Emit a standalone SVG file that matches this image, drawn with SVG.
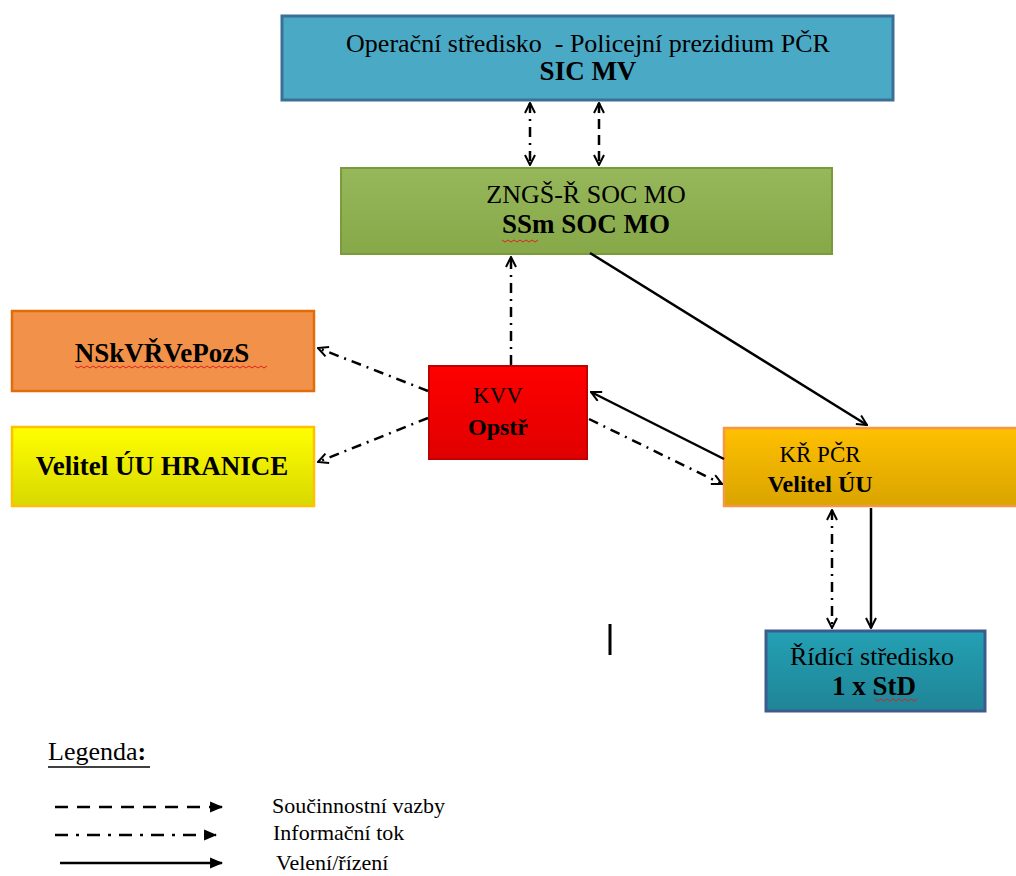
<svg xmlns="http://www.w3.org/2000/svg" width="1016" height="876" viewBox="0 0 1016 876">
<style>
.t{font-family:"Liberation Serif","Times New Roman",serif;fill:#000;text-anchor:middle}
.n{font-size:26px}
.b{font-size:27px;font-weight:bold}
.sn{font-size:23px}
.sb{font-size:24px;font-weight:bold}
.c{fill:none;stroke:#000;stroke-width:2.5}
.dash{stroke-dasharray:10 6}
.dd{stroke-dasharray:10 6 2 6}
.ldash{stroke-dasharray:13 9}
.ldd{stroke-dasharray:13 8 3 8}
.lg{font-family:"Liberation Serif","Times New Roman",serif;font-size:22px;fill:#000}
.wav{fill:none;stroke:#e02020;stroke-width:1}
</style>
<defs>
<marker id="o" viewBox="0 0 12 12" refX="11" refY="6" markerWidth="12" markerHeight="12" markerUnits="userSpaceOnUse" orient="auto-start-reverse">
<path d="M1,1 L11,6 L1,11" fill="none" stroke="#000" stroke-width="2"/>
</marker>
<marker id="f" viewBox="0 0 12 12" refX="11" refY="6" markerWidth="13" markerHeight="13" markerUnits="userSpaceOnUse" orient="auto">
<path d="M0,1 L12,6 L0,11 Z" fill="#000"/>
</marker>
<linearGradient id="gY" x1="0" y1="0" x2="0" y2="1"><stop offset="0" stop-color="#ffff00"/><stop offset="1" stop-color="#d8d800"/></linearGradient>
<linearGradient id="gK" x1="0" y1="0" x2="0" y2="1"><stop offset="0" stop-color="#ffc000"/><stop offset="1" stop-color="#d9a400"/></linearGradient>
<linearGradient id="gR" x1="0" y1="0" x2="0" y2="1"><stop offset="0" stop-color="#ff0000"/><stop offset="1" stop-color="#e00000"/></linearGradient>
<linearGradient id="gT" x1="0" y1="0" x2="0" y2="1"><stop offset="0" stop-color="#24a0b4"/><stop offset="1" stop-color="#1f8596"/></linearGradient>
<linearGradient id="gG" x1="0" y1="0" x2="0" y2="1"><stop offset="0" stop-color="#97b85a"/><stop offset="1" stop-color="#86a849"/></linearGradient>
</defs>

<g id="op-stredisko">
<rect x="282" y="16" width="611" height="84" fill="#4aaac6" stroke="#3a6f96" stroke-width="3"/>
<text class="t n" x="588" y="52">Operační středisko&#160; - Policejní prezidium PČR</text>
<text class="t b" x="588" y="80">SIC MV</text>
</g>

<g id="zngs">
<rect x="341" y="168" width="491" height="86" fill="url(#gG)" stroke="#7a9a3c" stroke-width="2"/>
<text class="t n" x="586" y="203">ZNGŠ-Ř SOC MO</text>
<text class="t b" x="586" y="233">SSm SOC MO</text>
<path class="wav" d="M502,240 l3,2 l3,-2 l3,2 l3,-2 l3,2 l3,-2 l3,2 l3,-2 l3,2 l3,-2 l3,2 l3,-2"/>
</g>

<g id="nskv">
<rect x="12" y="311" width="302" height="80" fill="#f2924a" stroke="#e36c0a" stroke-width="2.5"/>
<text class="t b" x="162" y="362">NSkVŘVePozS</text>
<path class="wav" d="M75,366 l3,2 l3,-2 l3,2 l3,-2 l3,2 l3,-2 l3,2 l3,-2 l3,2 l3,-2 l3,2 l3,-2 l3,2 l3,-2 l3,2 l3,-2 l3,2 l3,-2 l3,2 l3,-2 l3,2 l3,-2 l3,2 l3,-2 l3,2 l3,-2 l3,2 l3,-2 l3,2 l3,-2 l3,2 l3,-2 l3,2 l3,-2 l3,2 l3,-2 l3,2 l3,-2 l3,2 l3,-2 l3,2 l3,-2 l3,2 l3,-2 l3,2 l3,-2 l3,2 l3,-2 l3,2 l3,-2 l3,2 l3,-2 l3,2 l3,-2 l3,2 l3,-2 l3,2 l3,-2 l3,2 l3,-2 l3,2 l3,-2 l3,2 l3,-2"/>
</g>

<g id="velitel-hranice">
<rect x="12" y="427" width="302" height="79" fill="url(#gY)" stroke="#ffc000" stroke-width="2.5"/>
<text class="t b" x="162" y="475">Velitel ÚU HRANICE</text>
</g>

<g id="kvv">
<rect x="429" y="366" width="158" height="93" fill="url(#gR)" stroke="#c00000" stroke-width="2"/>
<text class="t sn" x="498" y="403">KVV</text>
<text class="t sb" x="498" y="435">Opstř</text>
</g>

<g id="kr-pcr">
<rect x="724" y="428" width="295" height="78" fill="url(#gK)" stroke="#f79646" stroke-width="2.5"/>
<text class="t sn" x="820" y="462">KŘ PČR</text>
<text class="t sb" x="820" y="492">Velitel ÚU</text>
</g>

<g id="ridici">
<rect x="766" y="631" width="219" height="80" fill="url(#gT)" stroke="#3b5c8c" stroke-width="3"/>
<text class="t n" x="872" y="665">Řídící středisko</text>
<text class="t b" x="874" y="695">1 x StD</text>
<path class="wav" d="M875,699 l3,2 l3,-2 l3,2 l3,-2 l3,2 l3,-2 l3,2 l3,-2 l3,2 l3,-2 l3,2 l3,-2 l3,2 l3,-2"/>
</g>

<g id="connectors">
<line class="c dd" x1="530" y1="103" x2="530" y2="165" marker-start="url(#o)" marker-end="url(#o)"/>
<line class="c dash" x1="599" y1="103" x2="599" y2="165" marker-start="url(#o)" marker-end="url(#o)"/>
<line class="c dd" x1="511" y1="365" x2="511" y2="257" marker-end="url(#o)"/>
<line class="c" x1="590" y1="253" x2="867" y2="425" marker-end="url(#o)"/>
<line class="c" x1="724" y1="459" x2="591" y2="392" marker-end="url(#o)"/>
<line class="c dd" x1="589" y1="419" x2="722" y2="484" marker-end="url(#o)"/>
<line class="c dd" x1="428" y1="391" x2="318" y2="348" marker-end="url(#o)"/>
<line class="c dd" x1="428" y1="418" x2="318" y2="462" marker-end="url(#o)"/>
<line class="c dd" x1="832" y1="510" x2="832" y2="628" marker-start="url(#o)" marker-end="url(#o)"/>
<line class="c" x1="871" y1="508" x2="871" y2="628" marker-end="url(#o)"/>
<line x1="610" y1="624" x2="610" y2="655" stroke="#000" stroke-width="3"/>
</g>

<g id="legend">
<text class="lg" x="48" y="760" style="font-size:26px">Legenda<tspan font-weight="bold">:</tspan></text>
<line x1="48" y1="767" x2="150" y2="767" stroke="#000" stroke-width="1.5"/>
<line class="c ldash" x1="55" y1="807" x2="222" y2="807" marker-end="url(#f)"/>
<line class="c ldd" x1="55" y1="835" x2="216" y2="835" marker-end="url(#f)"/>
<line class="c" x1="60" y1="863" x2="222" y2="863" marker-end="url(#f)"/>
<text class="lg" x="272" y="813">Součinnostní vazby</text>
<text class="lg" x="273" y="840">Informační tok</text>
<text class="lg" x="276" y="870">Velení/řízení</text>
</g>
</svg>
